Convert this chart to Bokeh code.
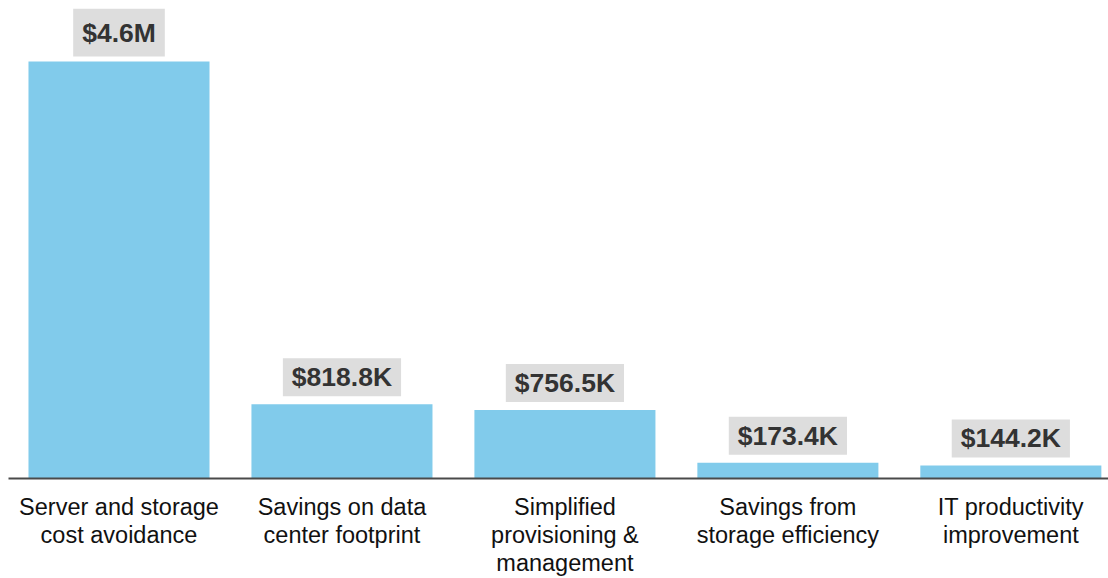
from bokeh.plotting import figure
from bokeh.models import Label, FixedTicker, Range1d, ColumnDataSource
from bokeh.embed import file_html
from bokeh.resources import INLINE

categories = [
    "Server and storage\ncost avoidance",
    "Savings on data\ncenter footprint",
    "Simplified\nprovisioning &\nmanagement",
    "Savings from\nstorage efficiency",
    "IT productivity\nimprovement",
]
values = [4.6, 0.8188, 0.7565, 0.1734, 0.1442]  # $M
value_labels = ["$4.6M", "$818.8K", "$756.5K", "$173.4K", "$144.2K"]

xs = list(range(len(categories)))
src = ColumnDataSource(data=dict(x=xs, top=values))

p = figure(width=1108, height=578, output_backend="svg", toolbar_location=None,
           x_range=Range1d(-0.4956, 4.438), y_range=Range1d(0, 5.185),
           min_border_left=8, min_border_right=0, min_border_top=8, min_border_bottom=100)
p.outline_line_color = None
p.background_fill_color = "white"
p.border_fill_color = "white"
p.grid.visible = False
p.yaxis.visible = False

p.vbar(x="x", top="top", width=0.812, bottom=0, source=src,
       fill_color="#81CBEB", line_color=None)

ax = p.xaxis[0]
ax.ticker = FixedTicker(ticks=xs)
ax.major_label_overrides = {i: c for i, c in zip(xs, categories)}
ax.axis_line_color = "#4a4a4a"
ax.axis_line_width = 2
ax.major_tick_line_color = None
ax.minor_tick_line_color = None
ax.major_label_text_font = "Liberation Sans"
ax.major_label_text_font_size = "23.5px"
ax.major_label_text_color = "#111111"
ax.major_label_text_line_height = 1.08
ax.major_label_standoff = 9

for i, (x, v, t) in enumerate(zip(xs, values, value_labels)):
    if i == 0:
        pad = dict(left=9, right=9, top=9, bottom=9)
        yoff = 5
    else:
        pad = dict(left=9, right=9, top=4, bottom=4)
        yoff = 8
    p.add_layout(Label(x=x, y=v, text=t, text_align="center", text_baseline="bottom",
                       y_offset=yoff, text_font="Liberation Sans", text_font_style="bold",
                       text_font_size="26.5px", text_color="#333333",
                       background_fill_color="#DDDDDD", padding=pad))

open("out.html", "w").write(file_html(p, INLINE))
